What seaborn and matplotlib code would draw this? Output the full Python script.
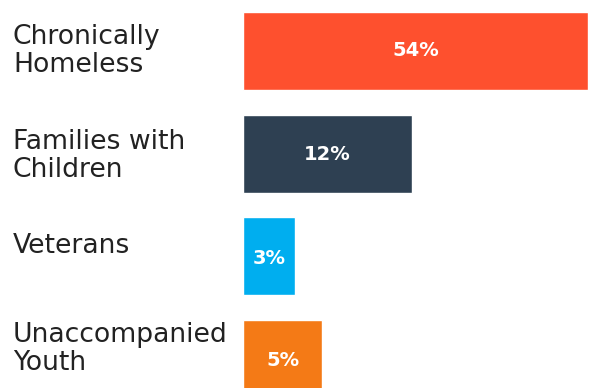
import matplotlib
matplotlib.use("Agg")
import matplotlib.pyplot as plt
import matplotlib.transforms as mtransforms
import seaborn as sns
import pandas as pd

# Data
categories = ["Chronically\nHomeless", "Families with\nChildren", "Veterans", "Unaccompanied\nYouth"]
percent_labels = ["54%", "12%", "3%", "5%"]
# Bar lengths as drawn in the graphic (relative to longest bar = 100)
bar_length = [100, 49, 15, 23]
colors = ["#FE502E", "#2E4052", "#00AEEF", "#F47A16"]

df = pd.DataFrame({"category": categories, "length": bar_length, "label": percent_labels})

sns.set_theme(style="white")
plt.rcParams["font.family"] = ["DejaVu Sans"]

W, H = 593, 388
fig = plt.figure(figsize=(W / 100, H / 100), dpi=100)

# axes geometry in pixels
left_px, right_px = 243, 588
first_center_px, spacing_px = 51, 102.7
top_px = first_center_px - spacing_px / 2
height_px = spacing_px * len(categories)
ax = fig.add_axes([left_px / W, 1 - (top_px + height_px) / H, (right_px - left_px) / W, height_px / H])

sns.barplot(data=df, x="length", y="category", hue="category", palette=colors,
            orient="h", width=0.76, legend=False, saturation=1, ax=ax)
ax.set_xlim(0, 100)
ax.set_ylim(len(categories) - 0.5, -0.5)
ax.axis("off")

label_offsets = [0, 0.02, -0.1, -0.1]
pct_offsets = [0.0, 0.01, 0.02, 0.01]
trans = mtransforms.blended_transform_factory(fig.transFigure, ax.transData)
for i, (cat, length, lab) in enumerate(zip(categories, bar_length, percent_labels)):
    ax.text(13 / W, i + label_offsets[i], cat, transform=trans, ha="left", va="center",
            fontsize=19.2, color="#222222", linespacing=1.08)
    ax.text(length / 2, i + pct_offsets[i], lab, ha="center", va="center",
            fontsize=14, fontweight="bold", color="white")

fig.savefig("out.png", dpi=100)
